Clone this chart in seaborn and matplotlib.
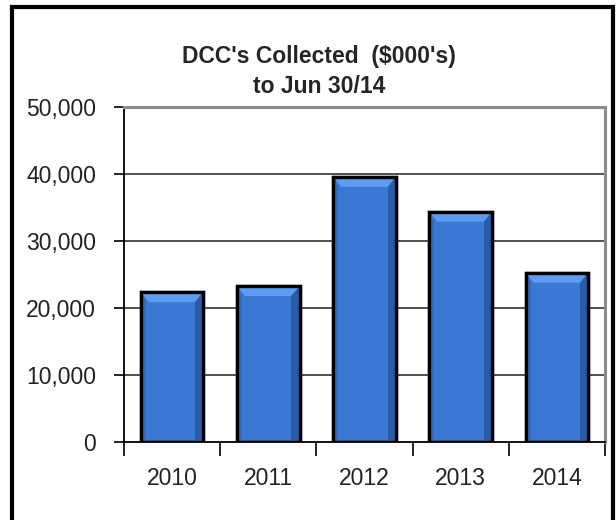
import matplotlib
matplotlib.use("Agg")
import matplotlib.pyplot as plt
import matplotlib.patches as mpatches
import seaborn as sns
import pandas as pd
from matplotlib.ticker import FuncFormatter, FixedLocator

# values ($000's)
years = ["2010", "2011", "2012", "2013", "2014"]
collected = [22400, 23300, 39600, 34400, 25300]
y_ticks = [0, 10000, 20000, 30000, 40000, 50000]

sns.set_style("white")
plt.rcParams['font.family'] = ['Liberation Sans', 'DejaVu Sans']

df = pd.DataFrame({'year': years, 'collected': collected})

fig = plt.figure(figsize=(6.16, 5.2), dpi=100)
ax = fig.add_axes([0.2013, 0.1494, 0.7808, 0.6448])

sns.barplot(data=df, x='year', y='collected', color='#3a78d6', saturation=1,
            edgecolor='black', linewidth=2.4, width=0.65, ax=ax, zorder=3)

# bevel look on each bar, taken from the drawn bar patches
bx = 0.085   # bevel width in category units
by = 1500    # bevel height in data units
for p in list(ax.patches):
    x0, w, h = p.get_x(), p.get_width(), p.get_height()
    x1 = x0 + w
    top = mpatches.Polygon([(x0, h), (x1, h), (x1 - bx, h - by), (x0 + bx, h - by)],
                           closed=True, facecolor='#5d9cf0', edgecolor='none', zorder=4)
    right = mpatches.Polygon([(x1, h), (x1, 0), (x1 - bx, 0), (x1 - bx, h - by)],
                             closed=True, facecolor='#2a5ba8', edgecolor='none', zorder=4)
    left = mpatches.Polygon([(x0, h), (x0, 0), (x0 + bx * 0.6, 0), (x0 + bx * 0.6, h - by)],
                            closed=True, facecolor='#3368bd', edgecolor='none', zorder=4)
    ax.add_patch(top)
    ax.add_patch(right)
    ax.add_patch(left)
    ax.add_patch(mpatches.Rectangle((x0, 0), w, h, fill=False, edgecolor='black',
                                    linewidth=2.4, zorder=5))

ax.set_ylim(0, 50000)
ax.set_xlim(-0.5, 4.5)
ax.yaxis.set_major_locator(FixedLocator(y_ticks))
ax.yaxis.set_major_formatter(FuncFormatter(lambda v, p: f'{int(v):,}'))
for v in y_ticks[1:-1]:
    ax.axhline(v, color='#222222', lw=1.1, zorder=1)

ax.set_xlabel('')
ax.set_ylabel('')
ax.tick_params(axis='y', direction='out', length=7, width=1.2, color='black',
               labelsize=16.5, pad=13, left=True, labelcolor='#222222')
ax.tick_params(axis='x', which='major', length=0, labelsize=16.5, pad=18,
               labelcolor='#222222')
ax.set_xticks([i - 0.5 for i in range(len(years) + 1)], minor=True)
ax.tick_params(axis='x', which='minor', direction='out', length=10, width=1.2,
               color='black', bottom=True)

for s in ['left', 'bottom']:
    ax.spines[s].set_color('black')
    ax.spines[s].set_linewidth(1.3)
for s in ['top', 'right']:
    ax.spines[s].set_color('#8c8c8c')
    ax.spines[s].set_linewidth(2.2)

fig.text(0.518, 0.862, "DCC's Collected  ($000's)\nto Jun 30/14", ha='center',
         va='center', fontsize=16.5, fontweight='bold', linespacing=1.4)

# outer chart frame
fig.patches.append(mpatches.Rectangle((12 / 616, -0.05), 601 / 616, 1.05 - 7 / 520,
                                      transform=fig.transFigure, fill=False,
                                      edgecolor='black', linewidth=3))

fig.savefig('out.png', dpi=100)
